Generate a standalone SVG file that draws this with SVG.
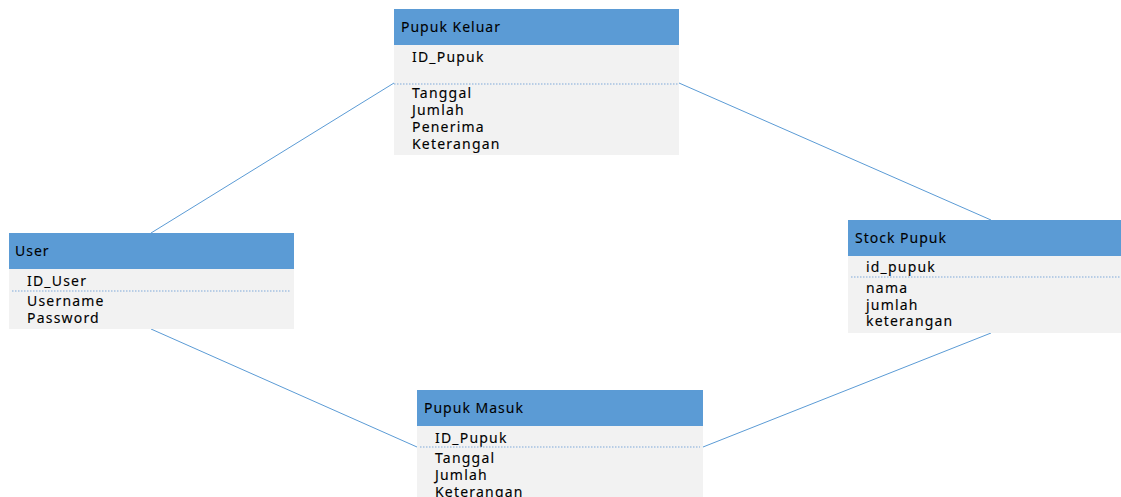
<svg xmlns="http://www.w3.org/2000/svg" width="1121" height="497" viewBox="0 0 1121 497">
<style>
.hdr{fill:#5b9bd5}
.body{fill:#f2f2f2}
.ht{font-family:"Noto Sans","Liberation Sans",sans-serif;font-size:14px;letter-spacing:1px;fill:#000;stroke:#000;stroke-width:0.1px}
.ft{font-family:"Noto Sans","Liberation Sans",sans-serif;font-size:14px;letter-spacing:1.2px;fill:#000;stroke:#000;stroke-width:0.12px}
.sep{stroke:#7fa9d9;stroke-width:1;stroke-dasharray:1.5 1.5;fill:none}
.conn{stroke:#5b9bd5;stroke-width:1;fill:none}
</style>
<rect width="1121" height="497" fill="#ffffff"/>
<g id="connectors">
<line class="conn" x1="151" y1="233" x2="394" y2="83"/>
<line class="conn" x1="679" y1="83" x2="991" y2="220"/>
<line class="conn" x1="151" y1="329" x2="417" y2="447"/>
<line class="conn" x1="703" y1="447" x2="991" y2="333"/>
</g>
<g id="pupuk-keluar">
<rect class="body" x="394" y="45" width="285" height="110"/>
<rect class="hdr" x="394" y="9" width="285" height="36"/>
<text class="ht" x="401" y="32">Pupuk Keluar</text>
<text class="ft" x="412" y="62">ID_Pupuk</text>
<line class="sep" x1="394" y1="84" x2="679" y2="84"/>
<text class="ft" x="412" y="98">Tanggal</text>
<text class="ft" x="412" y="115">Jumlah</text>
<text class="ft" x="412" y="132">Penerima</text>
<text class="ft" x="412" y="149">Keterangan</text>
</g>
<g id="user">
<rect class="body" x="9" y="269" width="285" height="60"/>
<rect class="hdr" x="9" y="233" width="285" height="36"/>
<text class="ht" x="15" y="256">User</text>
<text class="ft" x="27" y="286">ID_User</text>
<line class="sep" x1="12" y1="291" x2="291" y2="291"/>
<text class="ft" x="27" y="306">Username</text>
<text class="ft" x="27" y="323">Password</text>
</g>
<g id="stock-pupuk">
<rect class="body" x="848" y="256" width="273" height="77"/>
<rect class="hdr" x="848" y="220" width="273" height="36"/>
<text class="ht" x="855" y="243">Stock Pupuk</text>
<text class="ft" x="866" y="272">id_pupuk</text>
<line class="sep" x1="851" y1="277" x2="1121" y2="277"/>
<text class="ft" x="866" y="293">nama</text>
<text class="ft" x="866" y="310">jumlah</text>
<text class="ft" x="866" y="326">keterangan</text>
</g>
<g id="pupuk-masuk">
<rect class="body" x="417" y="426" width="286" height="71"/>
<rect class="hdr" x="417" y="390" width="286" height="36"/>
<text class="ht" x="424" y="413">Pupuk Masuk</text>
<text class="ft" x="435" y="443">ID_Pupuk</text>
<line class="sep" x1="420" y1="447" x2="700" y2="447"/>
<text class="ft" x="435" y="463">Tanggal</text>
<text class="ft" x="435" y="480">Jumlah</text>
<text class="ft" x="435" y="497">Keterangan</text>
</g>
</svg>
